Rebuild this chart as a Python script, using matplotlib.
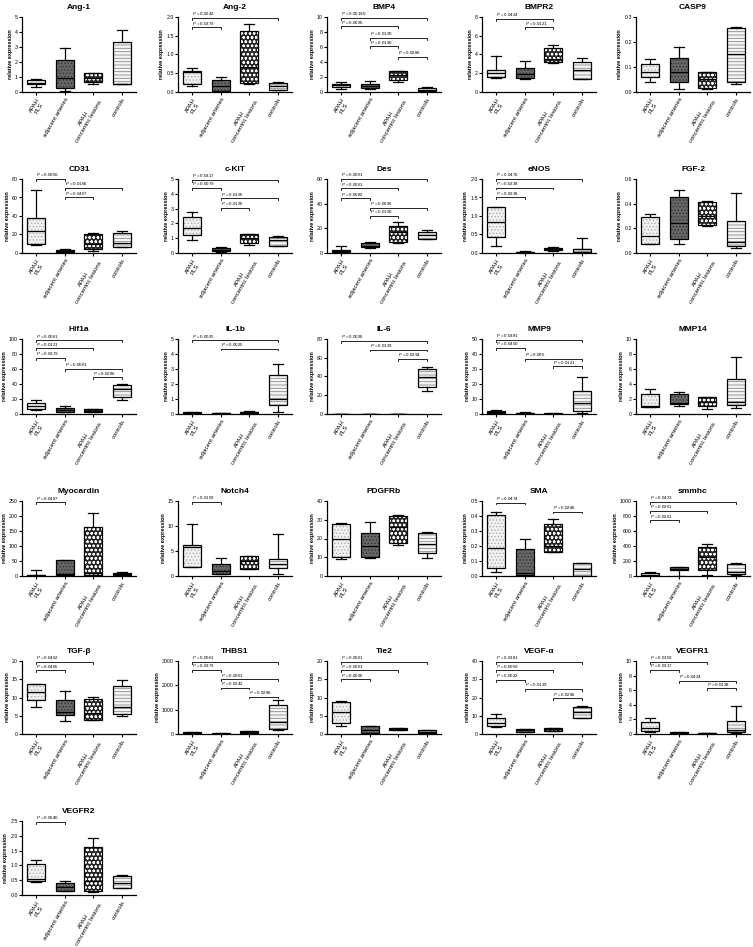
import matplotlib
matplotlib.use('Agg')
import matplotlib.pyplot as plt
from matplotlib.patches import PathPatch

plt.rcParams['font.family'] = ['Liberation Sans', 'DejaVu Sans']
plt.rcParams['hatch.linewidth'] = 0.6
plt.rcParams['mathtext.fontset'] = 'custom'
plt.rcParams['mathtext.it'] = 'Liberation Sans:italic'

groups = ['APAH\nPLS', 'adjacent arteries', 'APAH\nconcentric lesions', 'controls']

# each box: [whisker low, Q1, median, Q3, whisker high] for the 4 groups
ang1 = [[0.3, 0.5, 0.62, 0.8, 0.88], [0.08, 0.28, 0.92, 2.1, 2.9], [0.55, 0.65, 0.95, 1.25, 1.28], [0.5, 0.5, 0.55, 3.3, 4.15]]
ang2 = [[0.17, 0.2, 0.52, 0.57, 0.63], [0.02, 0.03, 0.15, 0.33, 0.4], [0.2, 0.23, 0.67, 1.62, 1.82], [0.05, 0.06, 0.15, 0.25, 0.27]]
bmp4 = [[0.45, 0.6, 0.9, 1.1, 1.3], [0.4, 0.55, 0.85, 1.1, 1.45], [1.35, 1.6, 2.2, 2.75, 2.8], [0.05, 0.1, 0.3, 0.55, 0.6]]
bmpr2 = [[1.5, 1.65, 2.0, 2.3, 3.85], [1.35, 1.5, 1.9, 2.55, 3.35], [3.1, 3.2, 3.5, 4.7, 5.05], [1.4, 1.4, 2.3, 3.25, 3.65]]
casp9 = [[0.04, 0.06, 0.08, 0.11, 0.13], [0.01, 0.04, 0.08, 0.135, 0.18], [0.01, 0.017, 0.05, 0.078, 0.08], [0.03, 0.04, 0.15, 0.255, 0.26]]
cd31 = [[9, 10, 24, 37.5, 68], [0.5, 1, 2, 3.5, 4], [2, 4, 10, 20, 22], [6, 6.5, 11, 21.5, 24]]
ckit = [[0.9, 1.2, 1.7, 2.45, 2.75], [0.05, 0.12, 0.22, 0.33, 0.38], [0.55, 0.7, 1.0, 1.25, 1.3], [0.5, 0.5, 0.85, 1.05, 1.12]]
des = [[0.2, 0.5, 1.5, 2.5, 5.5], [4, 4.5, 6, 8, 9], [8.5, 9.2, 17, 22, 25.5], [11, 11, 14.6, 17.3, 18.7]]
enos = [[0.18, 0.43, 0.85, 1.25, 1.25], [0.0, 0.01, 0.02, 0.04, 0.06], [0.05, 0.08, 0.1, 0.13, 0.15], [0.01, 0.03, 0.1, 0.11, 0.4]]
fgf2 = [[0.07, 0.07, 0.135, 0.29, 0.32], [0.07, 0.11, 0.24, 0.455, 0.51], [0.22, 0.225, 0.3, 0.41, 0.42], [0.04, 0.055, 0.09, 0.26, 0.49]]
hif1a = [[5, 7, 10, 15, 18], [2, 3, 5, 7.5, 11], [3, 3, 4.5, 6, 6.5], [18.5, 23, 33, 39, 40]]
il1b = [[0.03, 0.05, 0.08, 0.12, 0.15], [0.02, 0.03, 0.04, 0.05, 0.06], [0.03, 0.05, 0.1, 0.15, 0.2], [0.15, 0.6, 1.0, 2.62, 3.35]]
il6 = [[0.05, 0.1, 0.2, 0.3, 0.4], [0.05, 0.1, 0.15, 0.25, 0.3], [0.05, 0.1, 0.2, 0.3, 0.4], [24, 28.8, 39.5, 48, 49.8]]
mmp9 = [[0.3, 0.6, 1.2, 1.8, 2.8], [0.2, 0.3, 0.6, 0.9, 1.3], [0.1, 0.2, 0.3, 0.4, 0.5], [0.5, 2, 7.5, 15.5, 24.5]]
mmp14 = [[0.9, 0.9, 1.0, 2.7, 3.3], [1.1, 1.3, 1.5, 2.6, 2.9], [0.65, 1.0, 1.6, 2.2, 2.3], [0.8, 1.2, 1.6, 4.7, 7.6]]
myocardin = [[0.5, 1, 2, 5, 20], [0, 3, 8, 52, 52], [2, 5, 10, 162, 210], [2, 3, 6, 9, 12]]
notch4 = [[1.8, 1.8, 5.9, 6.3, 10.5], [0.5, 0.5, 1.0, 2.4, 3.7], [1.4, 1.5, 3.0, 4.0, 4.1], [0.4, 1.7, 2.5, 3.4, 8.5]]
pdgfrb = [[9, 10.3, 20, 28, 28.5], [9.5, 10.2, 16, 23, 29], [16.4, 17.8, 26, 32, 32.4], [9.5, 12.5, 17, 23, 23.5]]
sma = [[0.03, 0.055, 0.19, 0.41, 0.43], [0.0, 0.005, 0.02, 0.18, 0.25], [0.16, 0.16, 0.2, 0.345, 0.38], [0.0, 0.0, 0.05, 0.09, 0.09]]
smmhc = [[2, 5, 20, 35, 50], [0, 80, 100, 120, 120], [20, 80, 260, 390, 430], [20, 30, 60, 160, 180]]
tgfb = [[7.5, 9.2, 11.5, 13.8, 13.8], [3.6, 5.2, 6.0, 9.4, 11.7], [3.8, 3.9, 5.8, 9.5, 10.1], [4.9, 5.4, 7.5, 13.2, 14.7]]
thbs1 = [[20, 30, 50, 80, 90], [5, 10, 20, 30, 40], [30, 40, 80, 120, 140], [150, 220, 500, 1180, 1390]]
tie2 = [[2.3, 3, 6, 8.8, 9], [0.2, 0.4, 1.2, 2.2, 2.2], [1.0, 1.1, 1.4, 1.6, 1.7], [0.1, 0.2, 0.6, 1.1, 1.2]]
vegfa = [[4, 4.5, 6, 8.5, 11], [1, 1.2, 2, 2.8, 3], [1.5, 1.6, 2.5, 3.2, 3.5], [8.5, 9, 12, 15, 15.3]]
vegfr1 = [[0.3, 0.45, 0.8, 1.6, 2.2], [0.05, 0.1, 0.15, 0.25, 0.3], [0.03, 0.05, 0.08, 0.12, 0.15], [0.2, 0.3, 0.5, 1.8, 3.9]]
vegfr2 = [[0.44, 0.46, 0.55, 1.04, 1.17], [0.13, 0.15, 0.28, 0.4, 0.47], [0.1, 0.12, 0.48, 1.63, 1.91], [0.24, 0.25, 0.4, 0.64, 0.67]]

# significance brackets: (group a, group b, height, P text)
ang1_p = []
ang2_p = [(0, 3, 1.98, '0.0242'), (0, 1, 1.72, '0.0379')]
bmp4_p = [(0, 3, 9.9, '0.00190'), (0, 2, 8.75, '0.0095'), (1, 3, 7.2, '0.0190'), (1, 2, 6.1, '0.0190'), (2, 3, 4.7, '0.0286')]
bmpr2_p = [(0, 2, 7.8, '0.0424'), (1, 2, 6.9, '0.0121')]
casp9_p = []
cd31_p = [(0, 1, 80, '0.0006'), (1, 3, 70.5, '0.0166'), (1, 2, 60, '0.0467')]
ckit_p = [(0, 3, 4.93, '0.0317'), (0, 1, 4.4, '0.0079'), (1, 3, 3.7, '0.0195'), (1, 2, 3.05, '0.0195')]
des_p = [(0, 3, 60, '0.0061'), (0, 2, 52.5, '0.0061'), (0, 1, 44.5, '0.0082'), (1, 3, 36.5, '0.0095'), (1, 2, 30, '0.0190')]
enos_p = [(0, 3, 2.0, '0.0476'), (0, 2, 1.77, '0.0238'), (0, 1, 1.5, '0.0238')]
fgf2_p = []
hif1a_p = [(0, 3, 98, '0.0061'), (0, 2, 87.5, '0.0121'), (0, 1, 74.7, '0.0379'), (1, 3, 60, '0.0061'), (2, 3, 49, '0.0286')]
il1b_p = [(0, 3, 4.9, '0.0025'), (1, 3, 4.36, '0.0025')]
il6_p = [(0, 3, 78, '0.0095'), (1, 3, 68.7, '0.0139'), (2, 3, 58.7, '0.0294')]
mmp9_p = [(0, 3, 49.5, '0.0381'), (0, 1, 44, '0.0450'), (1, 3, 36.9, '0.005'), (2, 3, 31.8, '0.0121')]
mmp14_p = []
myocardin_p = [(0, 1, 246, '0.0487')]
notch4_p = [(0, 1, 14.8, '0.0150')]
pdgfrb_p = []
sma_p = [(0, 1, 0.49, '0.0474'), (2, 3, 0.43, '0.0286')]
smmhc_p = [(0, 3, 990, '0.0423'), (0, 2, 871, '0.0261'), (0, 1, 742, '0.0261')]
tgfb_p = [(0, 2, 19.8, '0.0462'), (0, 1, 17.4, '0.0405')]
thbs1_p = [(0, 3, 2970, '0.0061'), (0, 1, 2630, '0.0379'), (1, 3, 2250, '0.0061'), (1, 2, 1910, '0.0242'), (2, 3, 1540, '0.0286')]
tie2_p = [(0, 3, 19.8, '0.0061'), (0, 2, 17.5, '0.0061'), (0, 1, 15, '0.0095')]
vegfa_p = [(0, 3, 39.6, '0.0381'), (0, 2, 34.8, '0.0059'), (0, 1, 29.7, '0.0022'), (1, 3, 24.7, '0.0139'), (2, 3, 19.6, '0.0286')]
vegfr1_p = [(0, 2, 9.9, '0.0159'), (0, 1, 8.76, '0.0317'), (1, 3, 7.26, '0.0424'), (2, 3, 6.24, '0.0138')]
vegfr2_p = [(0, 1, 2.47, '0.0040')]

titles = ['Ang-1', 'Ang-2', 'BMP4', 'BMPR2', 'CASP9', 'CD31', 'c-KIT', 'Des', 'eNOS', 'FGF-2',
          'Hif1a', 'IL-1b', 'IL-6', 'MMP9', 'MMP14', 'Myocardin', 'Notch4', 'PDGFRb', 'SMA', 'smmhc',
          'TGF-β', 'THBS1', 'Tie2', 'VEGF-α', 'VEGFR1', 'VEGFR2']
boxes = [ang1, ang2, bmp4, bmpr2, casp9, cd31, ckit, des, enos, fgf2, hif1a, il1b, il6, mmp9, mmp14,
         myocardin, notch4, pdgfrb, sma, smmhc, tgfb, thbs1, tie2, vegfa, vegfr1, vegfr2]
pvals = [ang1_p, ang2_p, bmp4_p, bmpr2_p, casp9_p, cd31_p, ckit_p, des_p, enos_p, fgf2_p, hif1a_p, il1b_p,
         il6_p, mmp9_p, mmp14_p, myocardin_p, notch4_p, pdgfrb_p, sma_p, smmhc_p, tgfb_p, thbs1_p, tie2_p,
         vegfa_p, vegfr1_p, vegfr2_p]
y_max = [5, 2.0, 10, 8, 0.3, 80, 5, 60, 2.0, 0.6, 100, 5, 80, 50, 10, 250, 15, 40, 0.5, 1000,
         20, 3000, 20, 40, 10, 2.5]
y_step = [1, 0.5, 2, 2, 0.1, 20, 1, 20, 0.5, 0.2, 20, 1, 20, 10, 2, 50, 5, 10, 0.1, 200,
          5, 1000, 5, 10, 2, 0.5]

# ---- layout / style ----
W, H = 753, 947
col_left = [22, 178, 327, 482, 636]
row_top = [17, 179, 339, 501, 661, 821]
row_bot = [92, 253, 414, 576, 734, 895]
ax_w = 114

styles = [  # face, hatch, hatch colour
    ('#f0f0f0', '.....', '#b0b0b0'),
    ('#666666', '.....', '#333333'),
    ('#262626', 'oooo', '#ffffff'),
    ('#f5f5f5', '-----', '#8a8a8a'),
]

fig = plt.figure(figsize=(W / 100, H / 100), dpi=100)

for k, title in enumerate(titles):
    r, c = divmod(k, 5)
    left = col_left[c] / W
    bottom = 1 - row_bot[r] / H
    height = (row_bot[r] - row_top[r]) / H
    ax = fig.add_axes([left, bottom, ax_w / W, height])

    stats = [dict(whislo=b[0], q1=b[1], med=b[2], q3=b[3], whishi=b[4]) for b in boxes[k]]
    res = ax.bxp(stats, positions=range(4), widths=0.64, capwidths=0.34, patch_artist=True,
                 showfliers=False,
                 whiskerprops=dict(color='black', lw=0.9),
                 capprops=dict(color='black', lw=0.9),
                 medianprops=dict(color='black', lw=0.9))
    for patch, (fc, hatch, hc) in zip(res['boxes'], styles):
        patch.set_facecolor(fc)
        patch.set_edgecolor(hc)
        patch.set_hatch(hatch)
        patch.set_linewidth(0)
        outline = PathPatch(patch.get_path(), transform=patch.get_transform(), fill=False,
                            edgecolor='black', lw=0.9, zorder=patch.get_zorder() + 0.5)
        ax.add_patch(outline)
    for m in res['medians']:
        m.set_zorder(5)

    ymax = y_max[k]
    ax.set_ylim(0, ymax)
    ax.set_xlim(-0.5, 3.5)
    step = y_step[k]
    nt = int(round(ymax / step))
    ticks = [i * step for i in range(nt + 1)]
    dec = 0 if float(step).is_integer() else 1
    ax.set_yticks(ticks)
    ax.set_yticklabels([f'{t:.{dec}f}' for t in ticks])
    ax.set_xticks(range(4))
    ax.set_xticklabels(groups, rotation=60, ha='right', rotation_mode='anchor',
                       multialignment='center', fontsize=4.3)
    ax.tick_params(axis='both', direction='out', length=2, width=0.8, pad=1, labelsize=3.8)
    ax.tick_params(axis='x', labelsize=4.3, pad=1.5)
    for s in ['top', 'right']:
        ax.spines[s].set_visible(False)
    for s in ['left', 'bottom']:
        ax.spines[s].set_linewidth(0.9)
    ax.set_ylabel('relative expression', fontsize=4, fontweight='bold', labelpad=1.5)
    ax.set_title(title, fontsize=6, fontweight='bold', pad=6)

    d = 0.025 * ymax
    for a, b, h, txt in pvals[k]:
        ax.plot([a, a, b, b], [h - d, h, h, h - d], color='black', lw=0.6, clip_on=False)
        ax.text(a, h + 0.008 * ymax, r'$\mathit{P}$ = ' + txt, fontsize=3.2, ha='left', va='bottom',
                clip_on=False)

fig.savefig('out.png', dpi=100)
